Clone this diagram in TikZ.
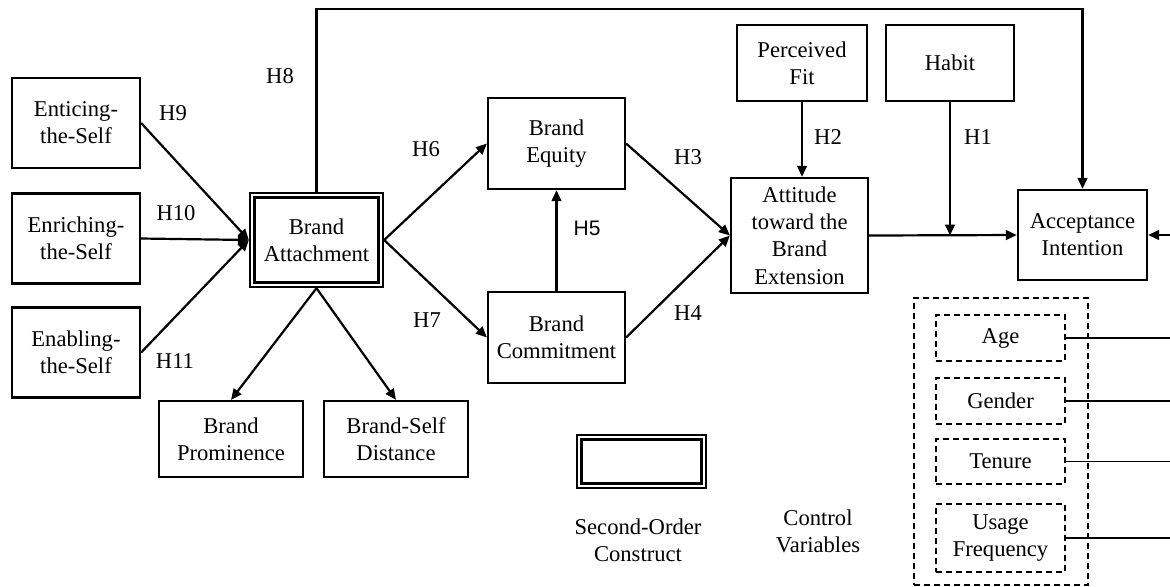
\documentclass[tikz,border=0pt]{standalone}
\usepackage{fontspec}
\setmainfont{Liberation Serif}
\newfontfamily\hsans{Liberation Sans}
\usetikzlibrary{arrows.meta}
\begin{document}
\begin{tikzpicture}[x=0.5pt,y=-0.5pt,
  font=\fontsize{11.3}{13.6}\selectfont,
  box/.style 2 args={draw, line width=1.1pt, align=center, inner sep=1pt, minimum width=#1, minimum height=#2},
  dbox/.style 2 args={draw, line width=1.1pt, double=white, double distance=1.2pt, align=center, inner sep=1pt, minimum width=#1, minimum height=#2, outer sep=1.7pt},
  dsh/.style 2 args={draw, line width=0.9pt, dash pattern=on 3pt off 2pt, align=center, inner sep=1pt, minimum width=#1, minimum height=#2},
  arr/.style={line width=1.1pt, -{Triangle[length=5.5pt,width=4.8pt]}},
  thin line/.style={line width=0.8pt},
  lbl/.style={inner sep=0pt, align=center}]
\useasboundingbox (0,0) rectangle (1170,586);
% left constructs
\node[box={64pt}{45pt}] (ent) at (76,123) {Enticing-\\the-Self};
\node[box={64pt}{45pt}] (enr) at (76,238.5) {Enriching-\\the-Self};
\node[box={64pt}{45pt}] (ena) at (76,352.5) {Enabling-\\the-Self};
% brand attachment
\node[dbox={64.25pt}{44.75pt}] (ba) at (316.5,240) {Brand\\Attachment};
\node[box={72pt}{38pt}] (prom) at (231,439) {Brand\\Prominence};
\node[box={72pt}{38pt}] (dist) at (396,439) {Brand-Self\\Distance};
% middle
\node[box={68.5pt}{45.5pt}] (eq) at (556.5,143.5) {Brand\\Equity};
\node[box={68.5pt}{45.5pt}] (com) at (556.5,337.5) {Brand\\Commitment};
\node[box={65pt}{38pt}] (fit) at (802,63) {Perceived\\Fit};
\node[box={64pt}{38pt}] (hab) at (950,63) {Habit};
\node[box={68.5pt}{57.5pt}] (att) at (799.5,235.5) {Attitude\\toward the\\Brand\\Extension};
\node[box={64.5pt}{45pt}] (acc) at (1082.5,235) {Acceptance\\Intention};
% control variables
\node[dsh={87pt}{143.5pt}] (ctrl) at (1001,441.5) {};
\node[dsh={64.5pt}{23pt}] (age) at (1000.5,338) {Age};
\node[dsh={64.5pt}{23pt}] (gen) at (1000.5,401) {Gender};
\node[dsh={64.5pt}{22.5pt}] (ten) at (1000.5,461.5) {Tenure};
\node[dsh={64.5pt}{34pt}] (use) at (1000.5,538) {Usage\\Frequency};
% legend
\node[dbox={62.25pt}{24.25pt}] (leg) at (641.5,461.5) {};
\node[lbl] (legt) at (638,540) {Second-Order\\Construct};
\node[lbl] (ctrlt) at (818,531) {Control\\Variables};
% coordinates
\coordinate (topL) at (316.5,9);
\coordinate (topR) at (1082.5,9);
\coordinate (rin) at (1170,235);
\coordinate (hj) at (950,235.5);
\coordinate (ra) at (1170,338);
\coordinate (rg) at (1170,401);
\coordinate (rt) at (1170,461.5);
\coordinate (ru) at (1170,538);
% connectors
\draw[arr] (ent.east) -- (ba.west);
\draw[arr] (enr.east) -- (ba.west);
\draw[arr] (ena.east) -- (ba.west);
\draw[arr] (ba.east) -- (eq.west);
\draw[arr] (ba.east) -- (com.west);
\draw[arr] (ba.south) -- (prom.north);
\draw[arr] (ba.south) -- (dist.north);
\draw[arr] (com.north) -- (eq.south);
\draw[arr] (eq.east) -- (att.west);
\draw[arr] (com.east) -- (att.west);
\draw[arr] (fit.south) -- (fit.south |- att.north);
\draw[arr] (att.east) -- (acc.west);
\draw[arr] (hab.south) -- (hj);
\draw[arr] (ba.north) -- (topL) -- (topR) -- (acc.north);
\draw[arr] (rin) -- (acc.east);
\draw[thin line] (age.east) -- (ra);
\draw[thin line] (gen.east) -- (rg);
\draw[thin line] (ten.east) -- (rt);
\draw[thin line] (use.east) -- (ru);
% labels
\node[lbl] (h9) at (173,113) {H9};
\node[lbl] (h10) at (176,213) {H10};
\node[lbl] (h11) at (175,361) {H11};
\node[lbl] (h8) at (280,76) {H8};
\node[lbl] (h6) at (426,149) {H6};
\node[lbl] (h7) at (427,320) {H7};
\node[lbl,font=\hsans\fontsize{10.5}{12}\selectfont] (h5) at (587,228) {H5};
\node[lbl] (h4) at (688,313) {H4};
\node[lbl] (h3) at (688,157) {H3};
\node[lbl] (h2) at (828,137) {H2};
\node[lbl] (h1) at (978,137) {H1};
\end{tikzpicture}
\end{document}
